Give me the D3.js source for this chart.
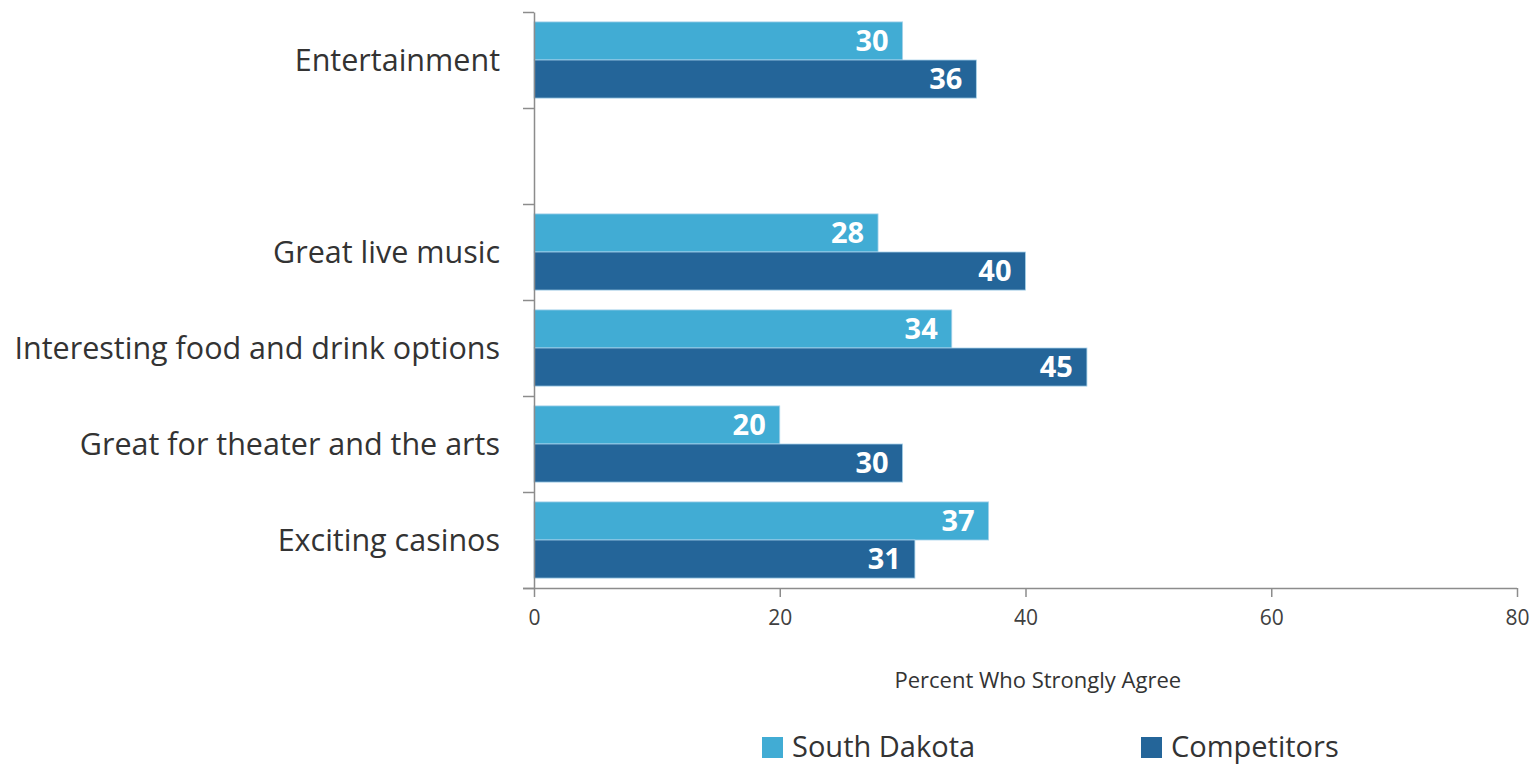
<!DOCTYPE html>
<html>
<head>
<meta charset="utf-8">
<script src="https://cdn.jsdelivr.net/npm/d3@7"></script>
<style>
  body { margin: 0; background: #fff; }
  svg { display: block; }
  .axis path, .axis line { stroke: #8c8c8c; stroke-width: 1.5; }
  .axis text { fill: #404040; font-family: "Open Sans", sans-serif; font-size: 21px; }
</style>
</head>
<body>
<svg id="chart"></svg>
<script>
// data
const categories = [
  "Entertainment",
  "",
  "Great live music",
  "Interesting food and drink options",
  "Great for theater and the arts",
  "Exciting casinos",
];
const seriesNames = ["South Dakota", "Competitors"];
const southDakota = [30, null, 28, 34, 20, 37];
const competitors = [36, null, 40, 45, 30, 31];
const xTicks = [0, 20, 40, 60, 80];

const colors = { "South Dakota": "#41acd4", "Competitors": "#246599" };

const width = 1539;
const height = 768;
const margin = { top: 12, right: 22, bottom: 180, left: 534 };

const svg = d3.select("#chart").attr("width", width).attr("height", height);

const plotWidth = width - margin.left - margin.right;
const plotHeight = height - margin.top - margin.bottom;

const plot = svg.append("g")
  .attr("transform", `translate(${margin.left}, ${margin.top})`);

// scales
const xScale = d3.scaleLinear().domain([0, 80]).range([0, 983]);
const yScale = d3.scaleBand().domain(d3.range(categories.length)).range([0, plotHeight]);
const seriesScale = d3.scaleBand().domain(seriesNames)
  .range([0, yScale.bandwidth()]).paddingOuter(0.26);
const boundScale = d3.scaleLinear().domain([0, categories.length]).range([0, plotHeight]);

// rows
const rows = categories.map((c, i) => ({
  i,
  name: c,
  values: [
    { key: "South Dakota", v: southDakota[i] },
    { key: "Competitors", v: competitors[i] },
  ].filter((d) => d.v != null),
}));

// bars
const rowG = plot.selectAll(".row")
  .data(rows)
  .join("g")
  .attr("class", "row")
  .attr("transform", (d) => `translate(0, ${yScale(d.i)})`);

rowG.selectAll("rect")
  .data((d) => d.values)
  .join("rect")
  .attr("x", 0)
  .attr("y", (d) => seriesScale(d.key))
  .attr("width", (d) => xScale(d.v))
  .attr("height", seriesScale.bandwidth())
  .attr("fill", (d) => colors[d.key])
  .attr("stroke", "#a9d3ea")
  .attr("stroke-width", 0.8);

rowG.selectAll(".val")
  .data((d) => d.values)
  .join("text")
  .attr("class", "val")
  .attr("x", (d) => xScale(d.v) - 14)
  .attr("y", (d) => seriesScale(d.key) + seriesScale.bandwidth() / 2)
  .attr("dy", "0.36em")
  .attr("text-anchor", "end")
  .attr("fill", "#fff")
  .style("font-family", "'Open Sans', sans-serif")
  .style("font-weight", "700")
  .style("font-size", "29px")
  .text((d) => d.v);

// category labels
plot.selectAll(".cat")
  .data(rows)
  .join("text")
  .attr("class", "cat")
  .attr("x", -34)
  .attr("y", (d) => yScale(d.i) + yScale.bandwidth() / 2)
  .attr("dy", "0.35em")
  .attr("text-anchor", "end")
  .attr("fill", "#333")
  .style("font-family", "'Open Sans', sans-serif")
  .style("font-size", "30.5px")
  .text((d) => d.name);

// axes
const yAxis = d3.axisLeft(boundScale)
  .tickValues(d3.range(categories.length + 1))
  .tickFormat("")
  .tickSize(11)
  .tickSizeOuter(0);
plot.append("g").attr("class", "axis yAxis").call(yAxis);

const xAxis = d3.axisBottom(xScale)
  .tickValues(xTicks)
  .tickSize(9)
  .tickSizeOuter(0)
  .tickPadding(13);
const xAxisG = plot.append("g")
  .attr("class", "axis xAxis")
  .attr("transform", `translate(0, ${plotHeight})`)
  .call(xAxis);
xAxisG.select(".domain").attr("d", `M-11,0.5H${xScale(80)}`);

// axis title
svg.append("text")
  .attr("x", margin.left + xScale(41))
  .attr("y", 688)
  .attr("text-anchor", "middle")
  .attr("fill", "#333")
  .style("font-family", "'Open Sans', sans-serif")
  .style("font-size", "22px")
  .text("Percent Who Strongly Agree");

// legend
const legendX = [762, 1141];
const legend = svg.selectAll(".legend")
  .data(seriesNames)
  .join("g")
  .attr("class", "legend")
  .attr("transform", (d, i) => `translate(${legendX[i]}, 737)`);

legend.append("rect")
  .attr("width", 21)
  .attr("height", 21)
  .attr("fill", (d) => colors[d]);

legend.append("text")
  .attr("x", 30)
  .attr("y", 20)
  .attr("fill", "#333")
  .style("font-family", "'Open Sans', sans-serif")
  .style("font-size", "29px")
  .text((d) => d);
</script>
</body>
</html>
